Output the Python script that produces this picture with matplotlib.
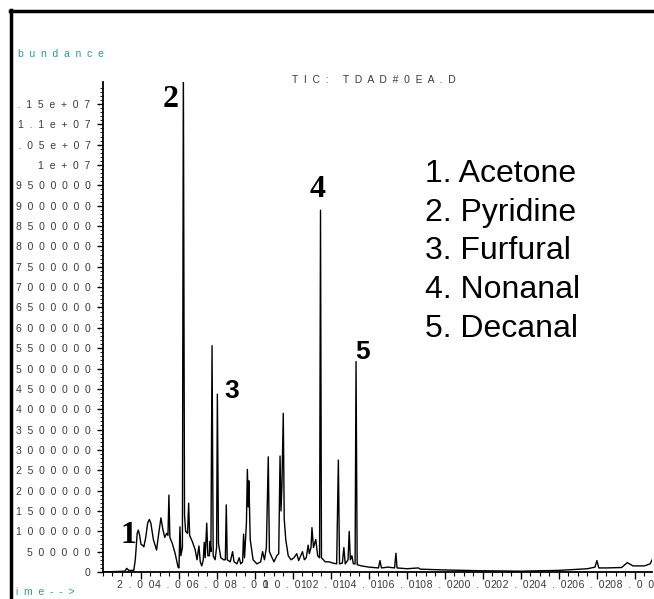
import numpy as np
import matplotlib
matplotlib.use('Agg')
import matplotlib.pyplot as plt
from matplotlib.patches import Rectangle
from matplotlib.lines import Line2D
from matplotlib.transforms import ScaledTranslation

# TIC trace: retention time (min) and abundance (millions)
ret_time = [0.0, 1.15, 1.25, 1.35, 1.62, 1.70, 1.80, 1.86, 1.93, 2.00, 2.10, 2.15, 2.25, 2.35,
            2.44, 2.52, 2.65, 2.82, 2.92, 3.05, 3.15, 3.25, 3.35, 3.42, 3.47, 3.52, 3.65, 3.80,
            3.95, 4.00, 4.05, 4.10, 4.18, 4.23, 4.29, 4.35, 4.45, 4.51, 4.56, 4.70, 4.85, 4.95,
            5.05, 5.12, 5.20, 5.28, 5.33, 5.38, 5.46, 5.52, 5.60, 5.63, 5.68, 5.74, 5.80, 5.90,
            5.98, 6.02, 6.08, 6.20, 6.35, 6.44, 6.49, 6.54, 6.70, 6.82, 6.90, 7.05, 7.17, 7.25,
            7.35, 7.40, 7.45, 7.55, 7.60, 7.65, 7.68, 7.75, 7.90, 8.10, 8.30, 8.40, 8.50, 8.60,
            8.70, 8.76, 8.90, 9.00, 9.15, 9.25, 9.32, 9.37, 9.42, 9.49, 9.54, 9.62, 9.75, 9.90,
            10.05, 10.20, 10.30, 10.50, 10.60, 10.70, 10.80, 10.86, 10.95, 11.00, 11.08, 11.20,
            11.30, 11.40, 11.45, 11.50, 11.70, 11.90, 12.10, 12.30, 12.39, 12.45, 12.60, 12.68,
            12.75, 12.90, 12.96, 13.02, 13.10, 13.18, 13.27, 13.32, 13.38, 13.60, 14.00, 14.50,
            14.58, 14.66, 15.00, 15.35, 15.42, 15.48, 16.00, 16.60, 16.70, 18.00, 20.00, 22.00,
            24.00, 25.50, 25.90, 26.00, 26.10, 26.50, 27.30, 27.60, 27.90, 28.50, 28.80, 28.95]
abundance = [0.0, 0.02, 0.09, 0.04, 0.04, 0.30, 0.95, 1.03, 0.90, 0.68, 0.65, 0.62, 0.85, 1.20,
             1.29, 1.20, 0.80, 0.54, 0.90, 1.33, 1.05, 0.85, 0.95, 0.90, 1.89, 0.85, 0.70, 0.45,
             0.12, 0.10, 1.11, 0.40, 0.60, 12.5, 1.40, 1.00, 0.95, 1.69, 0.90, 0.75, 0.55, 0.30,
             0.64, 0.25, 0.15, 0.30, 0.73, 0.35, 1.20, 0.40, 0.40, 0.75, 0.50, 5.56, 0.40, 0.30,
             0.60, 4.37, 0.70, 0.35, 0.30, 0.30, 1.65, 0.30, 0.25, 0.50, 0.25, 0.20, 0.35, 0.20,
             0.25, 0.93, 0.35, 1.20, 2.52, 1.60, 2.24, 0.80, 0.30, 0.20, 0.25, 0.50, 0.30, 0.60,
             2.83, 0.50, 0.35, 0.25, 0.40, 0.45, 2.85, 1.50, 2.15, 3.90, 1.30, 0.80, 0.40, 0.30,
             0.35, 0.45, 0.28, 0.50, 0.30, 0.35, 0.66, 0.45, 0.60, 1.09, 0.60, 0.80,
             0.40, 0.35, 8.89, 0.35, 0.25, 0.25, 0.22, 0.20, 2.75, 0.20, 0.22, 0.60,
             0.20, 0.30, 1.00, 0.30, 0.40, 0.20, 0.20, 5.17, 0.18, 0.15, 0.12, 0.10,
             0.28, 0.10, 0.12, 0.10, 0.46, 0.10, 0.08, 0.10, 0.07, 0.05, 0.03, 0.02,
             0.04, 0.08, 0.12, 0.28, 0.10, 0.10, 0.11, 0.23, 0.15, 0.15, 0.20, 0.34]

# numbered peaks: label, time, abundance (millions) of the label anchor, font
peak_labels = ['1', '2', '3', '4', '5']
peak_label_time = [1.35, 3.55, 6.75, 11.3, 13.65]
peak_label_abund = [0.9, 11.6, 4.45, 9.4, 5.4]
peak_label_serif = [True, True, False, True, False]

compounds = ['Acetone', 'Pyridine', 'Furfural', 'Nonanal', 'Decanal']

y_ticks = np.arange(0, 11.5e6 + 1, 5e5)
y_tick_text = ['0'] + ['%d' % v for v in y_ticks[1:20]] + ['1e+07', '1.05e+07', '1.1e+07', '1.15e+07']
x_ticks = np.arange(2, 29, 2)
x_tick_text = ['%.2f' % v for v in x_ticks]


def spaced(s):
    return '  '.join(s)


W, H = 654, 599
fig = plt.figure(figsize=(W / 100, H / 100), dpi=100)
ax = fig.add_axes([103 / W, (H - 572) / H, (652 - 103) / W, (572 - 82) / H])

ax.plot(ret_time, np.array(abundance) * 1e6, color='black', lw=1.0, clip_on=True)
ax.set_xlim(0, 28.9)
ax.set_ylim(0, 12.04e6)

for side in ['top', 'right']:
    ax.spines[side].set_visible(False)
for side in ['left', 'bottom']:
    ax.spines[side].set_linewidth(1.3)

tick_font = dict(fontsize=7.5, family='Liberation Sans', color='#3a3a3a')
ax.set_yticks(y_ticks)
ax.set_yticklabels([spaced(t) for t in y_tick_text], **tick_font)
ax.set_yticks(np.arange(0, 12.0e6, 1e5), minor=True)
ax.set_xticks(x_ticks)
ax.set_xticklabels([spaced(t) for t in x_tick_text], **tick_font)
ax.set_xticks(np.arange(0, 28.9, 0.5), minor=True)
ax.tick_params(axis='y', which='major', direction='out', length=4, width=1, pad=5)
ax.tick_params(axis='y', which='minor', direction='out', length=2, width=0.6)
ax.tick_params(axis='x', which='major', direction='out', length=5, width=1, pad=0.5)
ax.tick_params(axis='x', which='minor', direction='out', length=3, width=0.8)
shift = ScaledTranslation(-5 / 100, 0, fig.dpi_scale_trans)
for lab in ax.get_xticklabels():
    lab.set_transform(lab.get_transform() + shift)

# peak numbers
for lab, t, a, serif in zip(peak_labels, peak_label_time, peak_label_abund, peak_label_serif):
    if serif:
        ax.text(t, a * 1e6, lab, fontsize=23, family='Liberation Serif', weight='bold',
                ha='center', va='center')
    else:
        ax.text(t, a * 1e6, lab, fontsize=19, family='Liberation Sans', weight='bold',
                ha='center', va='center')

# compound list
for i, name in enumerate(compounds):
    fig.text(425 / W, 1 - (174 + i * 38.7) / H, '%d. %s' % (i + 1, name), fontsize=23,
             family='Liberation Sans', va='center', ha='left')

teal = '#2e9a9a'
fig.text(6 / W, 1 - 54 / H, spaced('Abundance'), fontsize=7.5, family='Liberation Sans',
         color=teal, va='center')
fig.text(4 / W, 1 - 592 / H, spaced('Time-->'), fontsize=7.5, family='Liberation Sans',
         color=teal, va='center')
fig.text(374 / W, 1 - 80 / H, spaced('TIC: TDAD#0EA.D'), fontsize=7.5, family='Liberation Sans',
         color='#3a3a3a', va='center', ha='center')

# white margin and thick frame of the scanned page
fig.patches.append(Rectangle((0, 0), 11 / W, 1, transform=fig.transFigure, facecolor='white',
                             edgecolor='none', zorder=10))
fig.lines.append(Line2D([11 / W, 11 / W], [0, 1 - 10 / H], transform=fig.transFigure,
                        color='black', lw=2.5, zorder=11))
fig.lines.append(Line2D([10 / W, 1], [1 - 11 / H, 1 - 11 / H], transform=fig.transFigure,
                        color='black', lw=2.5, zorder=11))

fig.savefig('out.png', dpi=100)
